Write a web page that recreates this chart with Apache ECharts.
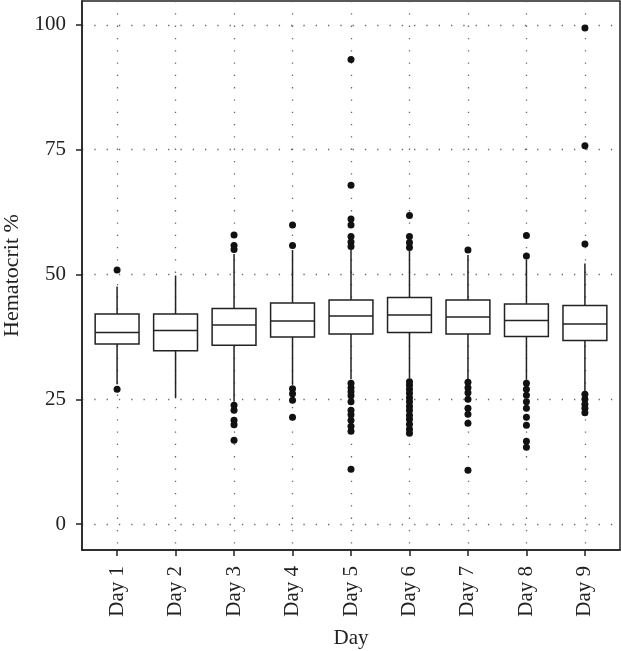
<!DOCTYPE html>
<html>
<head>
<meta charset="utf-8">
<script src="https://cdn.jsdelivr.net/npm/echarts@6/dist/echarts.min.js"></script>
<style>
  html, body { margin: 0; padding: 0; background: #fff; }
  #chart { width: 621px; height: 651px; }
</style>
</head>
<body>
<div id="chart"></div>
<script>
// categories
const days = ['Day 1', 'Day 2', 'Day 3', 'Day 4', 'Day 5', 'Day 6', 'Day 7', 'Day 8', 'Day 9']

// box statistics
const whiskerLow = [28.0, 25.2, 24.5, 27.9, 29.0, 29.2, 29.0, 28.9, 26.6]
const q1 = [36.1, 34.7, 35.8, 37.5, 38.1, 38.4, 38.1, 37.6, 36.8]
const median = [38.4, 38.8, 39.9, 40.7, 41.7, 41.9, 41.5, 40.8, 40.1]
const q3 = [42.1, 42.1, 43.2, 44.3, 44.9, 45.4, 44.9, 44.1, 43.8]
const whiskerHigh = [47.6, 49.8, 54.1, 54.9, 54.9, 54.8, 53.9, 52.9, 52.2]

// outliers per day
const outliers = [
  [50.9, 27.0],
  [],
  [57.9, 55.8, 55.0, 23.8, 22.8, 20.8, 19.9, 16.8],
  [59.9, 55.8, 27.1, 26.1, 24.8, 21.4],
  [93.1, 67.9, 61.1, 59.9, 57.6, 56.5, 55.6, 28.2, 27.3, 26.5, 25.7, 24.5, 22.8, 21.9, 20.8, 19.6, 18.6, 11.0],
  [61.8, 57.6, 56.4, 55.4, 28.5, 27.8, 27.0, 26.2, 25.3, 24.5, 23.6, 22.8, 21.8, 21.0, 20.0, 19.0, 18.2],
  [54.9, 28.4, 27.3, 26.3, 25.0, 23.2, 22.0, 20.2, 10.8],
  [57.8, 53.7, 28.2, 27.0, 25.8, 24.5, 23.2, 21.4, 19.8, 16.6, 15.4],
  [99.4, 75.8, 56.1, 26.0, 25.0, 24.0, 23.2, 22.3]
]

// axis ticks
const yTicks = [0, 25, 50, 75, 100]
const yGridLines = [0, 12.5, 25, 37.5, 50, 62.5, 75, 87.5, 100]
const xTicks = [1, 2, 3, 4, 5, 6, 7, 8, 9]

const boxData = days.map((d, i) => [i + 1, whiskerLow[i], q1[i], median[i], q3[i], whiskerHigh[i]])
const outlierData = []
outliers.forEach((list, i) => {
  list.forEach(v => outlierData.push([i + 1, v]))
})

const font = 'Liberation Serif'
const dark = '#222'
const dotted = { color: '#666', width: 1.3, type: [1.3, 11] }

// ggplot-like box: no caps on whiskers
function renderBox(params, api) {
  const x = api.value(0)
  const half = api.size([1, 0])[0] * 0.375
  const lo = api.coord([x, api.value(1)])
  const b = api.coord([x, api.value(2)])
  const m = api.coord([x, api.value(3)])
  const t = api.coord([x, api.value(4)])
  const hi = api.coord([x, api.value(5)])
  const stroke = { stroke: dark, lineWidth: 1.5, fill: null }
  return {
    type: 'group',
    children: [
      { type: 'line', shape: { x1: lo[0], y1: lo[1], x2: b[0], y2: b[1] }, style: stroke },
      { type: 'line', shape: { x1: t[0], y1: t[1], x2: hi[0], y2: hi[1] }, style: stroke },
      {
        type: 'rect',
        shape: { x: t[0] - half, y: t[1], width: half * 2, height: b[1] - t[1] },
        style: { stroke: dark, lineWidth: 1.5, fill: '#fff' }
      },
      { type: 'line', shape: { x1: m[0] - half, y1: m[1], x2: m[0] + half, y2: m[1] }, style: stroke }
    ]
  }
}

const chart = echarts.init(document.getElementById('chart'))
chart.setOption({
  animation: false,
  backgroundColor: '#fff',
  grid: {
    left: 82,
    right: 1,
    top: 1,
    bottom: 101,
    containLabel: false,
    outerBoundsMode: 'none',
    show: true,
    borderColor: dark,
    borderWidth: 1.5,
    backgroundColor: 'transparent'
  },
  xAxis: {
    type: 'value',
    min: 0.4,
    max: 9.6,
    name: 'Day',
    nameLocation: 'middle',
    nameGap: 78,
    nameTextStyle: { fontFamily: font, fontSize: 21, color: dark },
    axisLine: { show: true, onZero: false, lineStyle: { color: dark, width: 1.5 } },
    axisTick: { show: true, length: 6, customValues: xTicks, lineStyle: { color: dark, width: 1.5 } },
    axisLabel: {
      customValues: xTicks,
      rotate: 90,
      margin: 16,
      fontFamily: font,
      fontSize: 21,
      color: dark,
      formatter: v => days[v - 1]
    },
    splitLine: { show: true, customValues: xTicks, lineStyle: dotted }
  },
  yAxis: {
    type: 'value',
    min: -5.2,
    max: 104.8,
    name: 'Hematocrit %',
    nameLocation: 'middle',
    nameGap: 57,
    nameTextStyle: { fontFamily: font, fontSize: 22, color: dark },
    axisLine: { show: true, onZero: false, lineStyle: { color: dark, width: 1.5 } },
    axisTick: { show: true, length: 6, customValues: yTicks, lineStyle: { color: dark, width: 1.5 } },
    axisLabel: {
      customValues: yTicks,
      margin: 16,
      fontFamily: font,
      fontSize: 21,
      color: dark
    },
    splitLine: { show: true, customValues: yGridLines, lineStyle: dotted }
  },
  series: [
    {
      name: 'box',
      type: 'custom',
      data: boxData,
      encode: { x: 0, y: [1, 2, 3, 4, 5] },
      renderItem: renderBox,
      z: 2
    },
    {
      name: 'outliers',
      type: 'scatter',
      data: outlierData,
      symbolSize: 7,
      itemStyle: { color: '#111', opacity: 1 },
      z: 3
    }
  ]
})
</script>
</body>
</html>
